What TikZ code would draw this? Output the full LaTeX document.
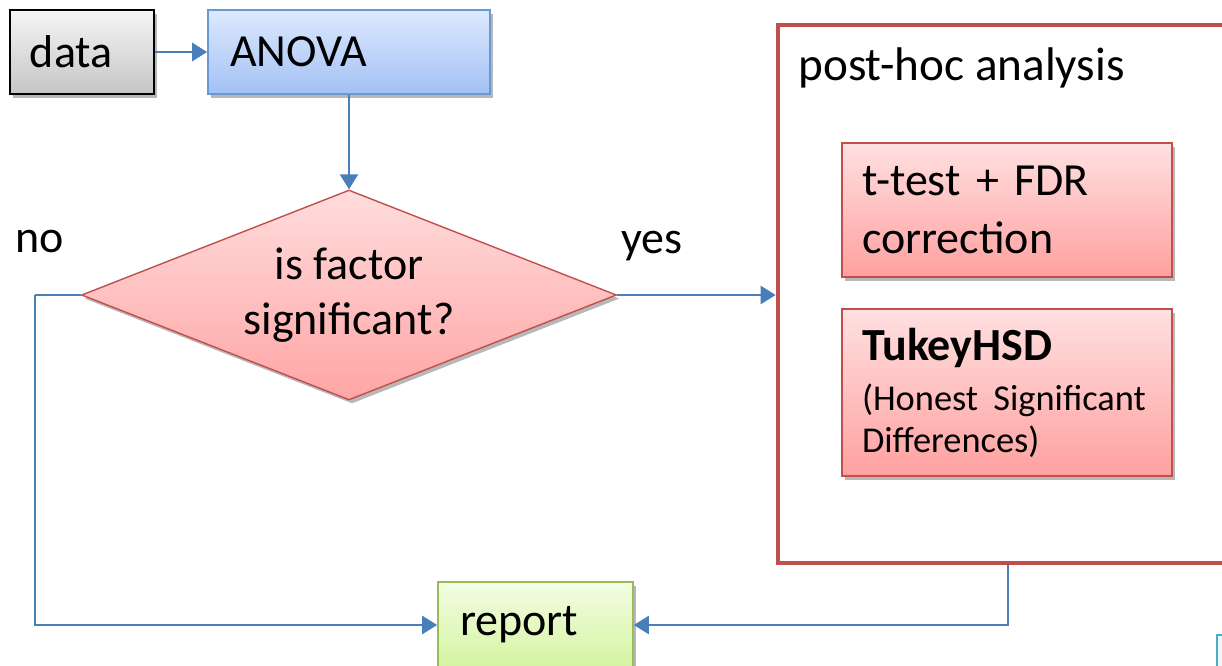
\documentclass[tikz,border=0pt]{standalone}
\usepackage{fontspec}
\setmainfont{Carlito}
\usetikzlibrary{shapes.geometric,arrows.meta,shadows}
\definecolor{conn}{HTML}{4A7EBB}
\definecolor{redline}{HTML}{C0504D}
\definecolor{blueline}{HTML}{6A98D0}
\definecolor{greenline}{HTML}{9BBB59}
\definecolor{cyanline}{HTML}{4BACC6}
\newcommand\smallfnt{\fontsize{18.2}{21}\selectfont}
\tikzset{
  shad/.style={drop shadow={shadow xshift=1.5pt,shadow yshift=-1.8pt,opacity=0.28,fill=black}},
  bigtext/.style={font=\fontsize{23}{29}\selectfont},
  databox/.style={draw=black,line width=0.8pt,top color=gray!8,bottom color=gray!45,shad,
    minimum width=72pt,minimum height=42pt,inner xsep=10pt,text width=52pt,align=left,bigtext},
  anovabox/.style={draw=blueline,line width=0.8pt,top color={rgb,255:red,221;green,233;blue,253},
    bottom color={rgb,255:red,163;green,193;blue,245},shad,
    minimum width=141pt,minimum height=42pt,inner xsep=11pt,text width=119pt,align=left,bigtext},
  pinkbox/.style={draw=redline,line width=0.7pt,top color={rgb,255:red,255;green,224;blue,224},
    bottom color={rgb,255:red,255;green,160;blue,160},shad,
    minimum width=165pt,inner xsep=10pt,text width=145pt,align=left,bigtext},
  decision/.style={diamond,draw=redline,line width=0.7pt,top color={rgb,255:red,255;green,220;blue,220},
    bottom color={rgb,255:red,255;green,165;blue,165},shad,aspect=2.55,inner sep=0pt,
    minimum width=267.5pt,minimum height=105pt,align=center,font=\fontsize{23}{27.5}\selectfont},
  container/.style={draw=redline,line width=2.3pt,fill=white,minimum width=230pt,minimum height=269pt},
  reportbox/.style={draw=greenline,line width=0.8pt,top color={rgb,255:red,243;green,253;blue,228},
    bottom color={rgb,255:red,213;green,244;blue,160},shad,
    minimum width=97.5pt,minimum height=43pt,inner xsep=11pt,text width=75.5pt,align=left,bigtext},
  conn/.style={draw=conn,line width=1.2pt,-{Triangle[length=7.5pt,width=9pt]}},
  plainconn/.style={draw=conn,line width=1.2pt},
}
\begin{document}
\begin{tikzpicture}[x=0.5pt,y=-0.5pt]
\useasboundingbox (0,0) rectangle (1222,665);
\clip (0,0) rectangle (1222,665);
\fill[white] (0,0) rectangle (1222,665);

\node[databox] (data) at (82,52) {data};
\node[anovabox] (anova) at (349,52) {ANOVA};
\node[decision] (dia) at (349,295) {is factor\\significant?};
\node[container] (ph) at (1008,294) {};
\node[font=\fontsize{23.6}{29}\selectfont,anchor=west,inner sep=0pt] (phlabel) at (798,68) {post-hoc analysis};
\node[pinkbox,minimum height=67pt] (ttest) at (1007,210) {t-test + FDR\\correction};
\node[pinkbox,minimum height=83.5pt] (tukey) at (1007,392.5) {\textbf{TukeyHSD}\\[4pt]\smallfnt (Honest Significant\\[-8pt]Differences)};
\node[reportbox] (report) at (535.5,625) {report};
\node[bigtext,inner sep=0pt] (no) at (40,241) {no};
\node[bigtext,inner sep=0pt] (yes) at (652,246) {yes};
\node[draw=cyanline,line width=0.8pt,fill={rgb,255:red,235;green,249;blue,252},minimum width=25pt,minimum height=25pt,anchor=north west] (cyanbox) at (1216,634) {};

\coordinate (nocorner) at (35,295);
\draw[conn] (data.east) -- (anova.west);
\draw[conn] (anova.south) -- (dia.north);
\draw[conn] (dia.east) -- (dia.east -| ph.west);
\draw[plainconn] (dia.west) -- (nocorner);
\draw[conn] (nocorner) |- (report.west);
\draw[conn] (ph.south) |- (report.east);
\end{tikzpicture}
\end{document}
